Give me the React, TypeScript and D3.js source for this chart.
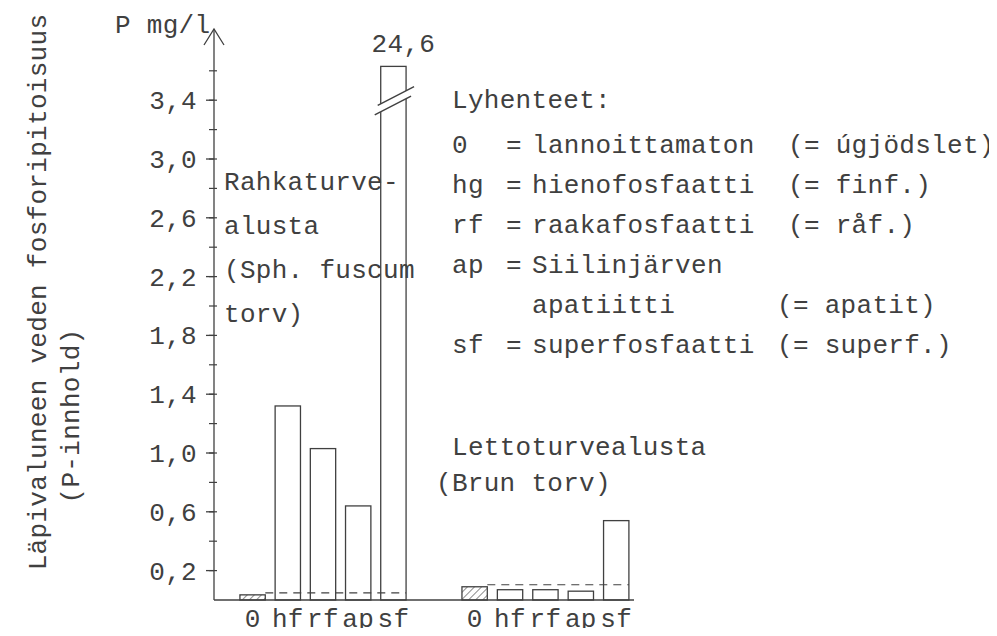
import React from "react";
import * as d3 from "d3";

const categories = ["0", "hf", "rf", "ap", "sf"];
const rahkaValues = [0.035, 1.32, 1.03, 0.64, 24.6];
const lettoValues = [0.09, 0.07, 0.07, 0.06, 0.54];
const tickValues = [0.2, 0.6, 1.0, 1.4, 1.8, 2.2, 2.6, 3.0, 3.4];
const tickLabels = ["0,2", "0,6", "1,0", "1,4", "1,8", "2,2", "2,6", "3,0", "3,4"];
const minorTickValues = [0.2, 0.4, 0.6, 0.8, 1.0, 1.2, 1.4, 1.6, 1.8, 2.0, 2.2, 2.4, 2.6, 2.8, 3.0, 3.2, 3.4, 3.6];
const legendCodes = ["0", "hg", "rf", "ap", "", "sf"];
const legendNames = ["lannoittamaton", "hienofosfaatti", "raakafosfaatti", "Siilinjärven", "apatiitti", "superfosfaatti"];
const legendSwedish = ["(= úgjödslet)", "(= finf.)", "(= råf.)", "", "(= apatit)", "(= superf.)"];
const rahkaLabel = ["Rahkaturve-", "alusta", "(Sph. fuscum", "torv)"];
const lettoLabel = ["Lettoturvealusta", "(Brun torv)"];
const yTitle = "Läpivaluneen veden fosforipitoisuus";
const yTitle2 = "(P-innhold)";
const yUnit = "P mg/l";
const brokenValueLabel = "24,6";

const W = 997;
const H = 636;
const FONT = "'Liberation Mono', 'DejaVu Sans Mono', monospace";
const INK = "#404040";
const axisX = 214;
const displayCap = 3.63;
const breakValue = 3.42;

export default function App() {
  const y = d3.scaleLinear().domain([0, 3.6]).range([600, 600 - 3.6 * 147]);
  const xA = d3.scaleBand<string>().domain(categories).range([235, 411]).paddingInner(0.28).paddingOuter(0.14);
  const xB = d3.scaleBand<string>().domain(categories).range([457, 634]).paddingInner(0.28).paddingOuter(0.14);
  const bw = xA.bandwidth();

  const textStyle: React.CSSProperties = {
    fontFamily: FONT,
    fontSize: 26,
    letterSpacing: 0.3,
    fill: INK,
  };

  const renderGroup = (vals: number[], x: d3.ScaleBand<string>, key: string) => {
    const ctrl = vals[0];
    const x0 = x(categories[0])!;
    const xLast = x(categories[categories.length - 1])! + bw;
    return (
      <g key={key}>
        {vals.map((v, i) => {
          const c = categories[i];
          const top = y(Math.min(v, displayCap));
          return (
            <rect
              key={c}
              x={x(c)}
              y={top}
              width={bw}
              height={y(0) - top}
              fill={i === 0 ? `url(#hatch)` : "none"}
              stroke={INK}
              strokeWidth={1.3}
            />
          );
        })}
        <line
          x1={x0 + bw}
          x2={xLast}
          y1={y(ctrl) - 2}
          y2={y(ctrl) - 2}
          stroke={INK}
          strokeWidth={1.2}
          strokeDasharray="8,6"
        />
        {categories.map((c) => (
          <text key={c} x={x(c)! + bw / 2} y={627} textAnchor="middle" style={textStyle}>
            {c}
          </text>
        ))}
      </g>
    );
  };

  // break symbol on the out-of-scale bar
  const sfX = xA("sf")!;
  const by = y(breakValue);
  const bx1 = sfX - 6;
  const bx2 = sfX + bw + 8;
  const slope = -0.52;
  const gap = 8;
  const ly = (x: number, off: number) => by + off + (x - (sfX + bw / 2)) * slope;

  return (
    <div style={{ margin: -8, width: W, height: H, background: "#fff" }}>
      <svg width={W} height={H} style={{ display: "block" }}>
        <defs>
          <pattern id="hatch" patternUnits="userSpaceOnUse" width={5} height={5} patternTransform="rotate(45)">
            <line x1={0} y1={0} x2={0} y2={5} stroke={INK} strokeWidth={1.2} />
          </pattern>
        </defs>
        <rect width={W} height={H} fill="#fff" />

        {/* Y axis title */}
        <text transform={`translate(46, 292) rotate(-90)`} textAnchor="middle" style={textStyle}>
          {yTitle}
        </text>
        <text transform={`translate(79, 416) rotate(-90)`} textAnchor="middle" style={textStyle}>
          {yTitle2}
        </text>
        <text x={115} y={33} style={textStyle}>
          {yUnit}
        </text>

        {/* axis */}
        <line x1={axisX} x2={axisX} y1={y(0)} y2={29} stroke={INK} strokeWidth={1.3} />
        <polyline
          points={`${axisX - 10},${45} ${axisX},${29} ${axisX + 10},${45}`}
          fill="none"
          stroke={INK}
          strokeWidth={1.3}
        />
        <line x1={axisX} x2={634} y1={y(0)} y2={y(0)} stroke={INK} strokeWidth={1.3} />
        {minorTickValues.map((t) => (
          <line key={t} x1={axisX - 5} x2={axisX + 3} y1={y(t)} y2={y(t)} stroke={INK} strokeWidth={1.2} />
        ))}
        {tickValues.map((t, i) => (
          <g key={t}>
            <line x1={axisX - 8} x2={axisX} y1={y(t)} y2={y(t)} stroke={INK} strokeWidth={1.3} />
            <text x={197} y={y(t) + 9} textAnchor="end" style={textStyle}>
              {tickLabels[i]}
            </text>
          </g>
        ))}

        {renderGroup(rahkaValues, xA, "rahka")}
        {renderGroup(lettoValues, xB, "letto")}

        {/* break marks */}
        <polygon
          points={`${bx1},${ly(bx1, 0)} ${bx2},${ly(bx2, 0)} ${bx2},${ly(bx2, gap)} ${bx1},${ly(bx1, gap)}`}
          fill="#fff"
        />
        <line x1={bx1 + 3} x2={bx2} y1={ly(bx1 + 3, 0)} y2={ly(bx2, 0)} stroke={INK} strokeWidth={1.4} />
        <line x1={bx1} x2={bx2 - 3} y1={ly(bx1, gap)} y2={ly(bx2 - 3, gap)} stroke={INK} strokeWidth={1.4} />
        <text x={sfX + bw / 2 + 10} y={52} textAnchor="middle" style={textStyle}>
          {brokenValueLabel}
        </text>

        {/* Rahkaturve label */}
        {rahkaLabel.map((s, i) => (
          <text key={s} x={224} y={190 + i * 44} style={textStyle}>
            {s}
          </text>
        ))}

        {/* Legend */}
        <text x={452} y={108} style={textStyle}>
          Lyhenteet:
        </text>
        {legendNames.map((n, i) => {
          const yy = 153 + i * 40;
          return (
            <g key={n}>
              {legendCodes[i] && (
                <>
                  <text x={452} y={yy} style={textStyle}>
                    {legendCodes[i]}
                  </text>
                  <text x={506} y={yy} style={textStyle}>
                    =
                  </text>
                </>
              )}
              <text x={532} y={yy} style={textStyle}>
                {n}
              </text>
              {legendSwedish[i] && (
                <text x={i >= 4 ? 777 : 788} y={yy} style={textStyle}>
                  {legendSwedish[i]}
                </text>
              )}
            </g>
          );
        })}

        {/* Letto label */}
        <text x={452} y={455} style={textStyle}>
          {lettoLabel[0]}
        </text>
        <text x={436} y={491} style={textStyle}>
          {lettoLabel[1]}
        </text>
      </svg>
    </div>
  );
}
